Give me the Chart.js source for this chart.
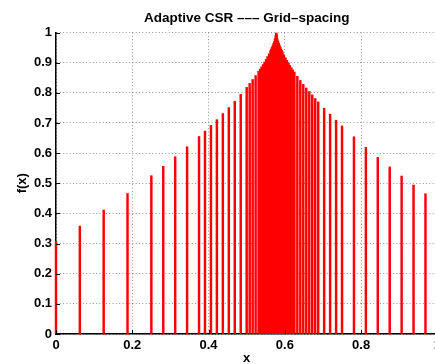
<!DOCTYPE html>
<html>
<head>
<meta charset="utf-8">
<script src="https://cdn.jsdelivr.net/npm/chart.js@4/dist/chart.umd.min.js"></script>
<style>
    html, body { margin: 0; padding: 0; background: #fff; overflow: hidden; }
    canvas { display: block; }
</style>
</head>
<body>
<canvas id="chart" width="445" height="364"></canvas>
<script>
// grid points of the adaptive mesh (x) and f(x)
const gridX = [
    0, 0.0625, 0.125, 0.1875, 0.25,
    0.28125, 0.3125, 0.34375, 0.375,
    0.390625, 0.40625, 0.421875, 0.4375, 0.453125, 0.46875, 0.484375, 0.5,
    0.5078, 0.5156, 0.5234, 0.53125,
    0.5352, 0.5391, 0.5430, 0.5469, 0.5508, 0.5547, 0.5586, 0.5625,
    0.5645, 0.5664, 0.5684, 0.5703, 0.5723, 0.5742, 0.5762, 0.5771, 0.5776, 0.5781,
    0.5801, 0.5820, 0.5840, 0.5859, 0.5879, 0.5898, 0.5918, 0.59375,
    0.5977, 0.6016, 0.6055, 0.6094, 0.6133, 0.6172, 0.6211, 0.625,
    0.6328, 0.6406, 0.6484, 0.65625, 0.6641, 0.6719, 0.6797, 0.6875,
    0.7031, 0.71875, 0.7344, 0.75,
    0.78125, 0.8125, 0.84375, 0.875, 0.90625, 0.9375, 0.96875, 1
];
const gridF = [
    0.307, 0.358, 0.411, 0.466, 0.525,
    0.556, 0.588, 0.621, 0.655,
    0.673, 0.692, 0.711, 0.731, 0.751, 0.772, 0.795, 0.818,
    0.831, 0.844, 0.857, 0.871,
    0.879, 0.886, 0.894, 0.902, 0.911, 0.920, 0.929, 0.940,
    0.945, 0.951, 0.957, 0.963, 0.970, 0.979, 0.989, 0.996, 0.998, 0.992,
    0.980, 0.972, 0.965, 0.958, 0.952, 0.946, 0.941, 0.935,
    0.926, 0.916, 0.908, 0.899, 0.891, 0.883, 0.876, 0.869,
    0.855, 0.841, 0.828, 0.816, 0.804, 0.793, 0.781, 0.770,
    0.749, 0.729, 0.709, 0.690,
    0.654, 0.619, 0.586, 0.554, 0.524, 0.494, 0.465, 0.437
];
const xTicks = [0, 0.2, 0.4, 0.6, 0.8, 1];
const yTicks = [0, 0.1, 0.2, 0.3, 0.4, 0.5, 0.6, 0.7, 0.8, 0.9, 1];
const chartTitle = 'Adaptive CSR ––– Grid–spacing';

const fontFamily = "'Liberation Sans', Arial, Helvetica, sans-serif";
const tickFont = { family: fontFamily, size: 13, weight: 'bold' };
const fmt = v => String(+Number(v).toFixed(1));

// matlab style ticks pointing into the axes
const insideTicks = {
    id: 'insideTicks',
    afterDatasetsDraw(chart) {
        const ctx = chart.ctx;
        const area = chart.chartArea;
        const xs = chart.scales.x;
        const ys = chart.scales.y;
        ctx.save();
        ctx.strokeStyle = '#000';
        ctx.lineWidth = 1;
        ctx.beginPath();
        xTicks.forEach(v => {
            const px = Math.round(xs.getPixelForValue(v)) + 0.5;
            ctx.moveTo(px, area.bottom);
            ctx.lineTo(px, area.bottom - 4);
        });
        yTicks.forEach(v => {
            const py = Math.round(ys.getPixelForValue(v)) + 0.5;
            ctx.moveTo(area.left, py);
            ctx.lineTo(area.left + 4, py);
        });
        ctx.stroke();
        ctx.restore();
    }
};

// title centred over the axes, not the whole canvas
const axesTitle = {
    id: 'axesTitle',
    afterDraw(chart) {
        const ctx = chart.ctx;
        const area = chart.chartArea;
        ctx.save();
        ctx.fillStyle = '#000';
        ctx.font = 'bold 13.5px ' + fontFamily;
        ctx.textAlign = 'center';
        ctx.textBaseline = 'alphabetic';
        ctx.fillText(chartTitle, (area.left + area.right) / 2, 22);
        ctx.restore();
    }
};

const points = gridX.map((x, i) => ({ x: x, y: gridF[i] }));

const ctx = document.getElementById('chart').getContext('2d');
new Chart(ctx, {
    type: 'bar',
    data: {
        datasets: [{
            data: points,
            backgroundColor: '#ff0000',
            borderWidth: 0,
            barThickness: 1.8,
            clip: false
        }]
    },
    options: {
        responsive: false,
        animation: false,
        layout: { padding: { left: 0, right: 7.5, top: 32.5, bottom: 0 } },
        plugins: {
            legend: { display: false },
            tooltip: { enabled: false },
            title: { display: false }
        },
        scales: {
            x: {
                type: 'linear',
                min: 0,
                max: 1,
                offset: false,
                afterFit: scale => { scale.height = 30; },
                afterBuildTicks: scale => { scale.ticks = xTicks.map(v => ({ value: v })); },
                ticks: {
                    color: '#000',
                    padding: 4,
                    maxRotation: 0,
                    font: tickFont,
                    callback: fmt
                },
                grid: {
                    offset: false,
                    drawTicks: false,
                    color: 'rgba(0,0,0,0.42)',
                    lineWidth: 1
                },
                border: { display: true, color: '#000', width: 1.5, dash: [1, 2.3] },
                title: {
                    display: true,
                    text: 'x',
                    color: '#000',
                    padding: 0,
                    font: { family: fontFamily, size: 13, weight: 'bold', lineHeight: 0.8 }
                }
            },
            y: {
                min: 0,
                max: 1,
                afterFit: scale => { scale.width = 56; },
                afterBuildTicks: scale => { scale.ticks = yTicks.map(v => ({ value: v })); },
                ticks: {
                    color: '#000',
                    padding: 4,
                    font: tickFont,
                    callback: fmt
                },
                grid: {
                    drawTicks: false,
                    color: 'rgba(0,0,0,0.42)',
                    lineWidth: 1
                },
                border: { display: true, color: '#000', width: 1.5, dash: [1, 2.3] },
                title: {
                    display: true,
                    text: 'f(x)',
                    color: '#000',
                    padding: { top: 15, bottom: 0 },
                    font: { family: fontFamily, size: 13, weight: 'bold', lineHeight: 1.2 }
                }
            }
        }
    },
    plugins: [insideTicks, axesTitle]
});
</script>
</body>
</html>
